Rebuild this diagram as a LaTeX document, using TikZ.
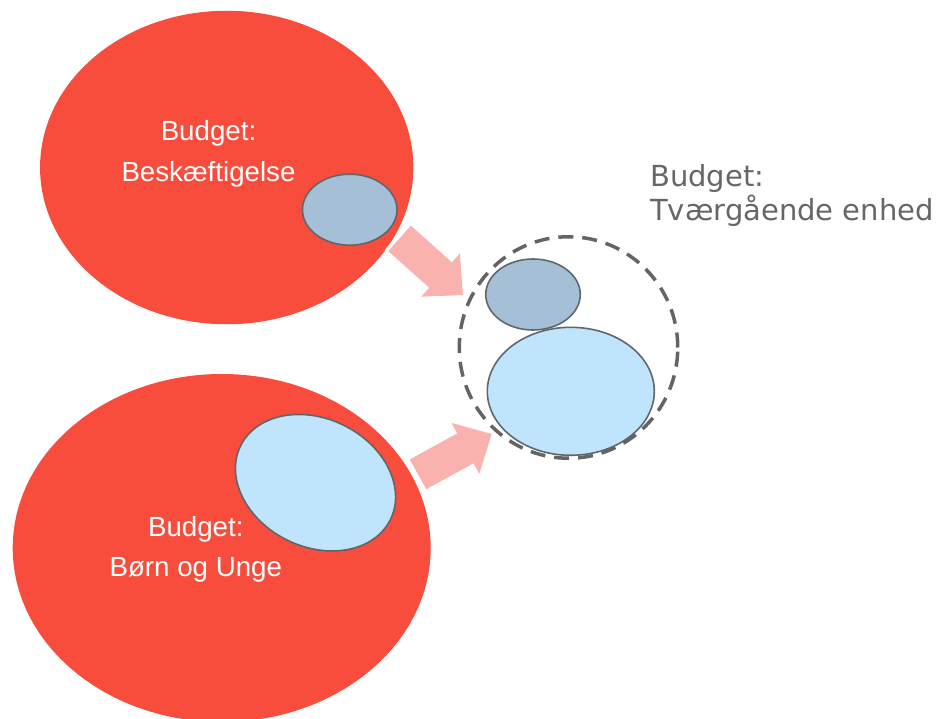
\documentclass[tikz,border=0pt]{standalone}
\usepackage{fontspec}
\setmainfont{Liberation Sans}
\newfontfamily\dejavu{DejaVu Sans}
\usetikzlibrary{shapes.geometric}
\definecolor{budred}{RGB}{248,77,60}
\definecolor{arrowpink}{RGB}{250,178,175}
\definecolor{darkblue}{RGB}{165,192,214}
\definecolor{lightblue}{RGB}{192,228,252}
\definecolor{outlinegray}{RGB}{95,103,107}
\definecolor{textgray}{RGB}{102,102,102}
\definecolor{dashgray}{RGB}{100,100,100}
\begin{document}
\begin{tikzpicture}[x=1pt,y=-1pt,
  redblob/.style={ellipse, fill=budred, inner sep=0pt, outer sep=0pt},
  darkblob/.style={ellipse, fill=darkblue, draw=outlinegray, line width=1.6pt,
    minimum width=94.5pt, minimum height=71pt, inner sep=0pt, outer sep=0pt},
  lightblob/.style={ellipse, fill=lightblue, draw=outlinegray, line width=1.6pt,
    minimum width=167pt, minimum height=128pt, inner sep=0pt, outer sep=0pt},
  innerlabel/.style={text=white, font=\fontsize{27.7}{33}\selectfont, anchor=base, inner sep=0pt},
  sidelabel/.style={text=textgray, font=\dejavu\fontsize{29}{34}\selectfont, anchor=base west, inner sep=0pt},
  fatarrow/.style={fill=arrowpink, preaction={draw=white, line width=7pt, line join=round}},
  dashring/.style={ellipse, draw=dashgray, line width=3.5pt, dash pattern=on 15pt off 9pt,
    minimum width=218.5pt, minimum height=221.5pt, inner sep=0pt, outer sep=0pt}
]
\useasboundingbox (0,0) rectangle (941,719);
\clip (0,0) rectangle (941,719);

% left budgets
\node[redblob, minimum width=373.3pt, minimum height=313.5pt] (besk) at (226.7,167.5) {};
\node[redblob, minimum width=418pt, minimum height=348pt] (bu) at (221.7,548) {};
\node[darkblob] (beskpart) at (349.7,209.7) {};
\node[lightblob, rotate=-26.2] (bupart) at (315.5,482.7) {};

\node[innerlabel] (beskt1) at (208.5,140.7) {Budget:};
\node[innerlabel] (beskt2) at (208.5,181.7) {Beskæftigelse};
\node[innerlabel] (but1) at (195.8,536.7) {Budget:};
\node[innerlabel] (but2) at (195.8,576.7) {Børn og Unge};

% arrows
\path[fatarrow, shift={(431.25,266.7)}, rotate=-41.8]
  (-42.5,-17) -- (12.5,-17) -- (12.5,-29) -- (42.5,0) -- (12.5,29) -- (12.5,17) -- (-42.5,17) -- cycle;
\path[fatarrow, shift={(454.85,454.15)}, rotate=28.7]
  (-42,-17) -- (12,-17) -- (12,-29) -- (42,0) -- (12,29) -- (12,17) -- (-42,17) -- cycle;

% cross-cutting unit
\node[darkblob] (tvdark) at (533,294.5) {};
\node[lightblob] (tvlight) at (570.8,391.3) {};
\node[dashring] (tv) at (568.5,347.5) {};

\node[sidelabel] (tvt1) at (650,186.7) {Budget:};
\node[sidelabel] (tvt2) at (650,220.7) {Tværgående enhed};
\end{tikzpicture}
\end{document}
